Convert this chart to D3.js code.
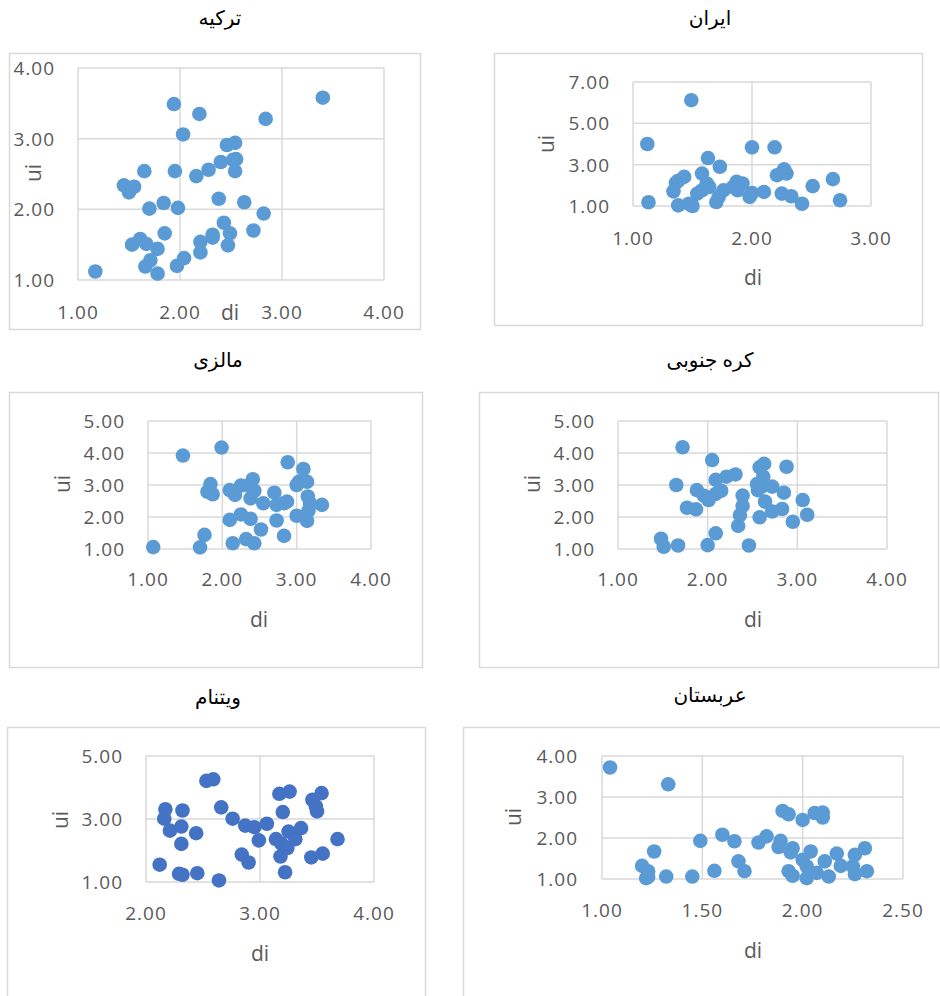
<!DOCTYPE html>
<html>
<head>
<meta charset="utf-8">
<script src="https://cdn.jsdelivr.net/npm/d3@7"></script>
<style>
  body { margin: 0; background: #fff; }
  .tick-label { font-family: "Open Sans", sans-serif; font-size: 19px; fill: #595959; letter-spacing: 1px; }
  .axis-title { font-family: "Open Sans", sans-serif; font-size: 21px; fill: #595959; }
  .chart-title { font-family: "Times New Roman", "Liberation Serif", "DejaVu Sans", serif; font-size: 20px; fill: #000; }
</style>
</head>
<body>
<script>
// [di, ui] pairs per country
var turkeyPoints = [
  [1.17, 1.12], [1.45, 2.34], [1.50, 2.24], [1.55, 2.32], [1.65, 2.54], [1.53, 1.50],
  [1.61, 1.58], [1.67, 1.51], [1.78, 1.44], [1.66, 1.19], [1.71, 1.28], [1.78, 1.09],
  [1.70, 2.01], [1.84, 2.09], [1.85, 1.66], [1.94, 3.49], [1.95, 2.54], [1.98, 2.02],
  [1.97, 1.20], [2.04, 1.31], [2.03, 3.06], [2.19, 3.35], [2.16, 2.47], [2.28, 2.56],
  [2.20, 1.54], [2.20, 1.39], [2.32, 1.64], [2.32, 1.60], [2.38, 2.15], [2.40, 2.67],
  [2.46, 2.91], [2.54, 2.94], [2.52, 2.70], [2.55, 2.71], [2.54, 2.54], [2.43, 1.81],
  [2.49, 1.66], [2.47, 1.49], [2.63, 2.10], [2.72, 1.70], [2.82, 1.94], [2.84, 3.28],
  [3.40, 3.58]
];
var iranPoints = [
  [1.12, 4.00], [1.13, 1.18], [1.49, 6.12], [1.34, 1.71], [1.36, 2.12], [1.38, 2.22],
  [1.43, 2.41], [1.38, 1.03], [1.50, 1.00], [1.47, 1.11], [1.54, 1.60], [1.58, 2.57],
  [1.63, 3.32], [1.62, 2.09], [1.64, 1.92], [1.58, 1.76], [1.70, 1.19], [1.72, 1.44],
  [1.73, 2.90], [1.76, 1.76], [1.87, 2.17], [1.88, 1.76], [1.92, 2.09], [1.98, 1.44],
  [2.00, 3.84], [2.00, 1.63], [2.10, 1.68], [2.19, 3.84], [2.21, 2.49], [2.27, 2.77],
  [2.29, 2.57], [2.25, 1.60], [2.33, 1.47], [2.42, 1.11], [2.51, 1.96], [2.68, 2.30],
  [2.74, 1.28], [1.84, 1.92]
];
var malaysiaPoints = [
  [1.07, 1.06], [1.47, 3.92], [1.99, 4.17], [1.70, 1.05], [1.76, 1.44], [1.84, 3.03],
  [1.80, 2.79], [1.87, 2.71], [2.10, 2.84], [2.17, 2.69], [2.25, 2.98], [2.35, 2.98],
  [2.41, 3.18], [2.43, 2.82], [2.38, 2.58], [2.55, 2.43], [2.10, 1.91], [2.25, 2.08],
  [2.38, 1.94], [2.14, 1.18], [2.32, 1.31], [2.43, 1.18], [2.52, 1.61], [2.70, 2.76],
  [2.73, 2.38], [2.73, 1.89], [2.83, 2.43], [2.87, 2.48], [2.88, 3.71], [2.83, 1.41],
  [3.00, 2.04], [3.00, 3.00], [3.03, 3.10], [3.09, 3.50], [3.14, 3.10], [3.15, 2.64],
  [3.18, 2.43], [3.14, 1.88], [3.16, 2.20], [3.34, 2.38]
];
var koreaPoints = [
  [1.72, 4.18], [1.65, 3.00], [1.48, 1.32], [1.51, 1.07], [1.67, 1.11], [1.77, 2.29],
  [1.87, 2.24], [1.88, 2.84], [1.96, 2.66], [2.01, 2.53], [2.05, 3.78], [2.09, 3.16],
  [2.09, 2.72], [2.15, 2.82], [2.21, 3.26], [2.31, 3.33], [2.00, 1.12], [2.09, 1.49],
  [2.34, 1.72], [2.36, 2.06], [2.39, 2.35], [2.39, 2.67], [2.46, 1.11], [2.58, 1.99],
  [2.56, 2.84], [2.58, 3.55], [2.63, 3.66], [2.62, 3.26], [2.62, 2.97], [2.64, 2.48],
  [2.72, 2.95], [2.72, 2.17], [2.85, 2.76], [2.83, 2.25], [2.88, 3.57], [2.95, 1.85],
  [3.06, 2.53], [3.11, 2.07], [2.55, 3.03]
];
var vietnamPoints = [
  [2.12, 1.55], [2.17, 3.31], [2.16, 3.01], [2.21, 2.63], [2.32, 3.27], [2.31, 2.76],
  [2.31, 2.21], [2.44, 2.55], [2.29, 1.26], [2.32, 1.23], [2.45, 1.28], [2.53, 4.21],
  [2.59, 4.26], [2.66, 3.37], [2.64, 1.05], [2.76, 3.01], [2.87, 2.79], [2.95, 2.74],
  [2.99, 2.32], [3.06, 2.85], [2.84, 1.87], [2.90, 1.62], [3.17, 3.80], [3.26, 3.87],
  [3.20, 3.22], [3.14, 2.36], [3.19, 2.21], [3.25, 2.60], [3.24, 2.08], [3.31, 2.36],
  [3.36, 2.71], [3.18, 1.81], [3.22, 1.31], [3.45, 1.78], [3.55, 1.90], [3.46, 3.61],
  [3.54, 3.82], [3.50, 3.24], [3.49, 3.40], [3.68, 2.36]
];
var arabiaPoints = [
  [1.04, 3.72], [1.33, 3.31], [1.20, 1.32], [1.23, 1.19], [1.22, 1.02], [1.23, 1.05],
  [1.26, 1.67], [1.32, 1.06], [1.45, 1.06], [1.49, 1.93], [1.56, 1.20], [1.60, 2.08],
  [1.66, 1.92], [1.68, 1.43], [1.71, 1.19], [1.78, 1.89], [1.82, 2.04], [1.88, 1.78],
  [1.89, 1.93], [1.90, 2.66], [1.93, 2.58], [1.93, 1.19], [1.95, 1.08], [1.95, 1.75],
  [1.94, 1.65], [2.00, 2.44], [2.00, 1.47], [2.02, 1.31], [2.02, 1.02], [2.04, 1.67],
  [2.07, 1.15], [2.06, 2.61], [2.10, 2.62], [2.10, 2.50], [2.11, 1.43], [2.13, 1.06],
  [2.17, 1.62], [2.19, 1.32], [2.26, 1.12], [2.26, 1.59], [2.31, 1.75], [2.32, 1.19],
  [2.25, 1.31]
];

var titles = ["ترکیه", "ایران", "مالزی", "کره جنوبی", "ویتنام", "عربستان"];
var xTicks = [[1, 2, 3, 4], [1, 2, 3], [1, 2, 3, 4], [1, 2, 3, 4], [2, 3, 4], [1, 1.5, 2, 2.5]];
var yTicks = [[1, 2, 3, 4], [1, 3, 5, 7], [1, 2, 3, 4, 5], [1, 2, 3, 4, 5], [1, 3, 5], [1, 2, 3, 4]];
var allPoints = [turkeyPoints, iranPoints, malaysiaPoints, koreaPoints, vietnamPoints, arabiaPoints];

// layout of each panel on the page
var panels = [
  { box: [9, 53, 411, 276], plot: [78, 384, 68, 280], tx: 220, ty: 18, xl: 312, yl: 55, di: [230, 312], ui: [33, 173], color: "#5b9bd5", r: 7.3 },
  { box: [494, 53, 428, 272], plot: [633, 871, 82, 206], tx: 710, ty: 18, xl: 238, yl: 610, di: [753, 277], ui: [546, 144], color: "#5b9bd5", r: 7.3 },
  { box: [9, 392, 413, 275], plot: [148, 371, 421, 549], tx: 218, ty: 360, xl: 579, yl: 125, di: [259, 619], ui: [62, 484], color: "#5b9bd5", r: 7.3 },
  { box: [479, 392, 459, 275], plot: [618, 887, 421, 549], tx: 710, ty: 360, xl: 579, yl: 595, di: [753, 619], ui: [532, 484], color: "#5b9bd5", r: 7.3 },
  { box: [7, 727, 418, 275], plot: [146, 374, 756, 882], tx: 218, ty: 697, xl: 913, yl: 123, di: [260, 953], ui: [60, 820], color: "#4472c4", r: 7.3 },
  { box: [463, 727, 490, 275], plot: [602, 903, 756, 879], tx: 710, ty: 695, xl: 910, yl: 578, di: [753, 950], ui: [513, 817], color: "#5b9bd5", r: 7.3 }
];

var svg = d3.select("body").append("svg")
    .attr("width", 940)
    .attr("height", 996);

panels.forEach(function(p, i) {
  var g = svg.append("g");
  var xt = xTicks[i], yt = yTicks[i];

  var x = d3.scaleLinear()
      .domain([xt[0], xt[xt.length - 1]])
      .range([p.plot[0], p.plot[1]]);
  var y = d3.scaleLinear()
      .domain([yt[0], yt[yt.length - 1]])
      .range([p.plot[3], p.plot[2]]);

  // outer chart border
  g.append("rect")
      .attr("x", p.box[0] + 0.5)
      .attr("y", p.box[1] + 0.5)
      .attr("width", p.box[2])
      .attr("height", p.box[3])
      .attr("fill", "#fff")
      .attr("stroke", "#d9d9d9")
      .attr("stroke-width", 1.5);

  // title
  g.append("text")
      .attr("class", "chart-title")
      .attr("x", p.tx)
      .attr("y", p.ty)
      .attr("text-anchor", "middle")
      .attr("dominant-baseline", "central")
      .attr("direction", "rtl")
      .text(titles[i]);

  // gridlines
  g.selectAll(".vgrid")
      .data(xt)
      .enter().append("line")
      .attr("x1", d => x(d)).attr("x2", d => x(d))
      .attr("y1", p.plot[2]).attr("y2", p.plot[3])
      .attr("stroke", "#d9d9d9")
      .attr("stroke-width", 1.5);
  g.selectAll(".hgrid")
      .data(yt)
      .enter().append("line")
      .attr("x1", p.plot[0]).attr("x2", p.plot[1])
      .attr("y1", d => y(d)).attr("y2", d => y(d))
      .attr("stroke", "#d9d9d9")
      .attr("stroke-width", 1.5);

  // tick labels
  g.selectAll(".xlab")
      .data(xt)
      .enter().append("text")
      .attr("class", "tick-label")
      .attr("x", d => x(d))
      .attr("y", p.xl)
      .attr("text-anchor", "middle")
      .attr("dominant-baseline", "central")
      .text(d3.format(".2f"));
  g.selectAll(".ylab")
      .data(yt)
      .enter().append("text")
      .attr("class", "tick-label")
      .attr("x", p.yl)
      .attr("y", d => y(d))
      .attr("text-anchor", "end")
      .attr("dominant-baseline", "central")
      .text(d3.format(".2f"));

  // axis titles
  g.append("text")
      .attr("class", "axis-title")
      .attr("x", p.di[0])
      .attr("y", p.di[1])
      .attr("text-anchor", "middle")
      .attr("dominant-baseline", "central")
      .text("di");
  g.append("text")
      .attr("class", "axis-title")
      .attr("transform", "translate(" + p.ui[0] + "," + p.ui[1] + ") rotate(-90)")
      .attr("text-anchor", "middle")
      .attr("dominant-baseline", "central")
      .text("ui");

  // points
  g.selectAll("circle")
      .data(allPoints[i])
      .enter().append("circle")
      .attr("cx", d => x(d[0]))
      .attr("cy", d => y(d[1]))
      .attr("r", p.r)
      .attr("fill", p.color);
});
</script>
</body>
</html>
